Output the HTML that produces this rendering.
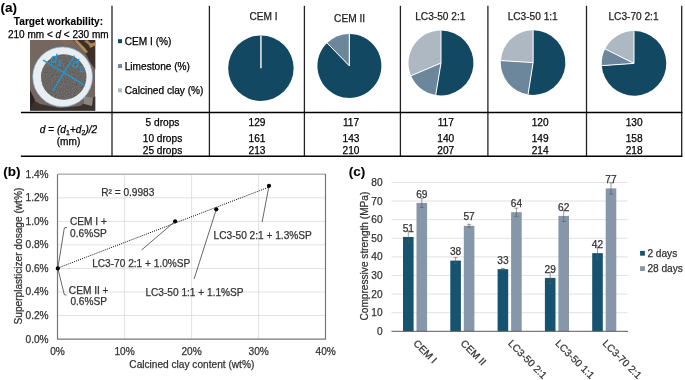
<!DOCTYPE html>
<html><head><meta charset="utf-8"><style>
html,body{margin:0;padding:0;background:#fff;width:685px;height:380px;overflow:hidden}
svg{display:block;will-change:transform}
text{font-family:"Liberation Sans",sans-serif}
</style></head><body>
<svg width="685" height="380" viewBox="0 0 685 380">
<text x="0.6" y="11.9" font-size="13.5" font-weight="bold" stroke="#000" stroke-width="0.1">(a)</text>
<text x="58.5" y="25" font-size="10.15" font-weight="bold" text-anchor="middle" stroke="#000" stroke-width="0.1">Target workability:</text>
<text x="58.3" y="37.6" font-size="10" text-anchor="middle" stroke="#000" stroke-width="0.25">210 mm &lt; <tspan font-style="italic">d</tspan> &lt; 230 mm</text>
<defs>
<filter id="tex" x="0" y="0" width="1" height="1" color-interpolation-filters="sRGB"><feTurbulence type="fractalNoise" baseFrequency="0.9" numOctaves="2" seed="3" result="n"/><feColorMatrix in="n" type="matrix" values="0.7 0 0 0 0.05  0.7 0 0 0 0.05  0.7 0 0 0 0.05  0 0 0 0 0.3" result="m"/><feComposite in="m" in2="SourceGraphic" operator="in"/></filter>
<clipPath id="pc"><rect x="30" y="40" width="65.3" height="70.7"/></clipPath>
</defs>
<g clip-path="url(#pc)">
<rect x="30" y="40" width="65.3" height="70.7" fill="#74675f"/>
<path d="M73,40 L96,40 L96,70 L90,62 L84,50 L78,45 Z" fill="#3d3029"/>
<path d="M74,40.5 L77,40 L84,47 L88,52 L86,53 L81,48 Z" fill="#b58a58"/>
<path d="M84,41 L87,40 L92,44 L90,46 Z" fill="#a07a50"/>
<path d="M89,44 L96,42 L96,45 L90,48 Z" fill="#b08552"/>
<path d="M60,40 L70,40 L72,44 L64,46 Z" fill="#85675a"/>
<path d="M30,98 L40,104 L60,108 L80,106 L96,96 L96,111 L30,111 Z" fill="#3a322e"/>
<path d="M30,90 L35,100 L31,108 L30,108 Z" fill="#2b2522"/>
<path d="M84,96 L93,98 L92,106 L84,104 Z" fill="#8a8580"/>
<ellipse cx="62.6" cy="76.8" rx="29.9" ry="29.9" fill="#e8eef1" stroke="#7fb2d4" stroke-width="0.7"/>
<circle cx="63.7" cy="77" r="22.7" fill="#6a6663"/>
<circle cx="63.7" cy="77" r="22.7" fill="#777" filter="url(#tex)"/>
<line x1="43.2" y1="60.2" x2="84.9" y2="85.4" stroke="#1d9ad6" stroke-width="1.4"/>
<line x1="74.5" y1="55.7" x2="52.7" y2="91.1" stroke="#1d9ad6" stroke-width="1.4"/>
<text x="50.6" y="62.6" font-size="12" fill="#1d9ad6" font-style="italic" stroke="#1d9ad6" stroke-width="0.3">d</text><text x="57.4" y="65.6" font-size="8.5" fill="#1d9ad6" stroke="#1d9ad6" stroke-width="0.2">1</text>
<text x="72.3" y="68.4" font-size="12" fill="#1d9ad6" font-style="italic" stroke="#1d9ad6" stroke-width="0.3">d</text><text x="79.2" y="72.2" font-size="8.5" fill="#1d9ad6" stroke="#1d9ad6" stroke-width="0.2">2</text>
</g>
<rect x="118" y="39.2" width="4" height="4" fill="#134862"/>
<text x="124.7" y="44.8" font-size="10.15" stroke="#000" stroke-width="0.25">CEM I (%)</text>
<rect x="118" y="64.1" width="4" height="4" fill="#6c879b"/>
<text x="124.7" y="69.7" font-size="10.15" stroke="#000" stroke-width="0.25">Limestone (%)</text>
<rect x="118" y="88.3" width="4" height="4" fill="#adb8c3"/>
<text x="124.7" y="93.9" font-size="10.15" stroke="#000" stroke-width="0.25">Calcined clay (%)</text>
<text x="263.5" y="19.6" font-size="10.15" text-anchor="middle" fill="#222" stroke="#222" stroke-width="0.25">CEM I</text>
<text x="349.6" y="21.5" font-size="10.15" text-anchor="middle" fill="#222" stroke="#222" stroke-width="0.25">CEM II</text>
<text x="440.3" y="19.7" font-size="10.15" text-anchor="middle" fill="#222" stroke="#222" stroke-width="0.25">LC3-50 2:1</text>
<text x="532.7" y="20.0" font-size="10.15" text-anchor="middle" fill="#222" stroke="#222" stroke-width="0.25">LC3-50 1:1</text>
<text x="633.5" y="19.6" font-size="10.15" text-anchor="middle" fill="#222" stroke="#222" stroke-width="0.25">LC3-70 2:1</text>
<circle cx="260.9" cy="68.2" r="32.7" fill="#134862"/>
<line x1="260.9" y1="68.2" x2="260.90" y2="35.50" stroke="#d4dce0" stroke-width="1"/>
<line x1="260.9" y1="68.2" x2="260.90" y2="35.50" stroke="#d4dce0" stroke-width="1"/>
<line x1="260.9" y1="68.2" x2="260.90" y2="35.50" stroke="#d4dce0" stroke-width="1"/>
<path d="M349.4,65.9 L349.40,33.90 A32,32 0 1 1 327.06,42.99 Z" fill="#134862"/>
<path d="M349.4,65.9 L327.06,42.99 A32,32 0 0 1 349.40,33.90 Z" fill="#6c879b"/>
<line x1="349.4" y1="65.9" x2="349.40" y2="33.90" stroke="#fff" stroke-width="1"/>
<line x1="349.4" y1="65.9" x2="327.06" y2="42.99" stroke="#fff" stroke-width="1"/>
<line x1="349.4" y1="65.9" x2="349.40" y2="33.90" stroke="#fff" stroke-width="1"/>
<path d="M441,63 L441.00,30.50 A32.5,32.5 0 1 1 435.71,95.07 Z" fill="#134862"/>
<path d="M441,63 L435.71,95.07 A32.5,32.5 0 0 1 411.09,75.72 Z" fill="#6c879b"/>
<path d="M441,63 L411.09,75.72 A32.5,32.5 0 0 1 441.00,30.50 Z" fill="#adb8c3"/>
<line x1="441" y1="63" x2="441.00" y2="30.50" stroke="#fff" stroke-width="1"/>
<line x1="441" y1="63" x2="435.71" y2="95.07" stroke="#fff" stroke-width="1"/>
<line x1="441" y1="63" x2="411.09" y2="75.72" stroke="#fff" stroke-width="1"/>
<path d="M533.1,62.6 L533.10,30.30 A32.3,32.3 0 1 1 528.05,94.50 Z" fill="#134862"/>
<path d="M533.1,62.6 L528.05,94.50 A32.3,32.3 0 0 1 500.86,60.57 Z" fill="#6c879b"/>
<path d="M533.1,62.6 L500.86,60.57 A32.3,32.3 0 0 1 533.10,30.30 Z" fill="#adb8c3"/>
<line x1="533.1" y1="62.6" x2="533.10" y2="30.30" stroke="#fff" stroke-width="1"/>
<line x1="533.1" y1="62.6" x2="528.05" y2="94.50" stroke="#fff" stroke-width="1"/>
<line x1="533.1" y1="62.6" x2="500.86" y2="60.57" stroke="#fff" stroke-width="1"/>
<path d="M634,63.4 L634.00,31.10 A32.3,32.3 0 1 1 601.78,65.63 Z" fill="#134862"/>
<path d="M634,63.4 L601.78,65.63 A32.3,32.3 0 0 1 605.13,48.92 Z" fill="#6c879b"/>
<path d="M634,63.4 L605.13,48.92 A32.3,32.3 0 0 1 634.00,31.10 Z" fill="#adb8c3"/>
<line x1="634" y1="63.4" x2="634.00" y2="31.10" stroke="#fff" stroke-width="1"/>
<line x1="634" y1="63.4" x2="601.78" y2="65.63" stroke="#fff" stroke-width="1"/>
<line x1="634" y1="63.4" x2="605.13" y2="48.92" stroke="#fff" stroke-width="1"/>
<line x1="112.0" y1="5.8" x2="112.0" y2="156.3" stroke="#222" stroke-width="1.3"/>
<line x1="209.4" y1="5.8" x2="209.4" y2="156.3" stroke="#222" stroke-width="1.3"/>
<line x1="304.4" y1="5.8" x2="304.4" y2="156.3" stroke="#222" stroke-width="1.3"/>
<line x1="400.4" y1="5.8" x2="400.4" y2="156.3" stroke="#222" stroke-width="1.3"/>
<line x1="487.9" y1="5.8" x2="487.9" y2="156.3" stroke="#222" stroke-width="1.3"/>
<line x1="586.5" y1="5.8" x2="586.5" y2="156.3" stroke="#222" stroke-width="1.3"/>
<line x1="681.7" y1="5.8" x2="681.7" y2="156.3" stroke="#222" stroke-width="1.3"/>
<line x1="20.9" y1="112.5" x2="682.4" y2="112.5" stroke="#000" stroke-width="1.5"/>
<line x1="20.9" y1="156.35" x2="682.4" y2="156.35" stroke="#000" stroke-width="1.5"/>
<text x="68.5" y="133" font-size="10.15" text-anchor="middle" font-style="italic" stroke="#000" stroke-width="0.25">d<tspan font-style="normal"> = </tspan>(d<tspan font-style="normal" font-size="7" dy="1.6">1</tspan><tspan dy="-1.6" font-style="normal">+</tspan>d<tspan font-style="normal" font-size="7" dy="1.6">2</tspan><tspan dy="-1.6">)/2</tspan></text>
<text x="68.5" y="144.6" font-size="10.15" text-anchor="middle" stroke="#000" stroke-width="0.25">(mm)</text>
<text x="162.5" y="126.2" font-size="10.15" text-anchor="middle" stroke="#000" stroke-width="0.25">5 drops</text>
<text x="162.5" y="141.6" font-size="10.15" text-anchor="middle" stroke="#000" stroke-width="0.25">10 drops</text>
<text x="162.5" y="154.2" font-size="10.15" text-anchor="middle" stroke="#000" stroke-width="0.25">25 drops</text>
<text x="257" y="126.2" font-size="10.15" text-anchor="middle" stroke="#000" stroke-width="0.25">129</text>
<text x="257" y="141.8" font-size="10.15" text-anchor="middle" stroke="#000" stroke-width="0.25">161</text>
<text x="257" y="154.2" font-size="10.15" text-anchor="middle" stroke="#000" stroke-width="0.25">213</text>
<text x="351" y="126.2" font-size="10.15" text-anchor="middle" stroke="#000" stroke-width="0.25">117</text>
<text x="351" y="141.8" font-size="10.15" text-anchor="middle" stroke="#000" stroke-width="0.25">143</text>
<text x="351" y="154.2" font-size="10.15" text-anchor="middle" stroke="#000" stroke-width="0.25">210</text>
<text x="445.8" y="126.2" font-size="10.15" text-anchor="middle" stroke="#000" stroke-width="0.25">117</text>
<text x="445.8" y="141.8" font-size="10.15" text-anchor="middle" stroke="#000" stroke-width="0.25">140</text>
<text x="445.8" y="154.2" font-size="10.15" text-anchor="middle" stroke="#000" stroke-width="0.25">207</text>
<text x="540.2" y="126.2" font-size="10.15" text-anchor="middle" stroke="#000" stroke-width="0.25">120</text>
<text x="540.2" y="141.8" font-size="10.15" text-anchor="middle" stroke="#000" stroke-width="0.25">149</text>
<text x="540.2" y="154.2" font-size="10.15" text-anchor="middle" stroke="#000" stroke-width="0.25">214</text>
<text x="634.2" y="126.2" font-size="10.15" text-anchor="middle" stroke="#000" stroke-width="0.25">130</text>
<text x="634.2" y="141.8" font-size="10.15" text-anchor="middle" stroke="#000" stroke-width="0.25">158</text>
<text x="634.2" y="154.2" font-size="10.15" text-anchor="middle" stroke="#000" stroke-width="0.25">218</text>
<text x="3.2" y="176.1" font-size="13.5" font-weight="bold" stroke="#000" stroke-width="0.1">(b)</text>
<line x1="57.5" y1="315.47" x2="325.5" y2="315.47" stroke="#d9d9d9" stroke-width="0.8"/>
<line x1="57.5" y1="291.94" x2="325.5" y2="291.94" stroke="#d9d9d9" stroke-width="0.8"/>
<line x1="57.5" y1="268.41" x2="325.5" y2="268.41" stroke="#d9d9d9" stroke-width="0.8"/>
<line x1="57.5" y1="244.88" x2="325.5" y2="244.88" stroke="#d9d9d9" stroke-width="0.8"/>
<line x1="57.5" y1="221.35" x2="325.5" y2="221.35" stroke="#d9d9d9" stroke-width="0.8"/>
<line x1="57.5" y1="197.82" x2="325.5" y2="197.82" stroke="#d9d9d9" stroke-width="0.8"/>
<line x1="57.5" y1="174.29" x2="325.5" y2="174.29" stroke="#d9d9d9" stroke-width="0.8"/>
<line x1="124.55" y1="174.3" x2="124.55" y2="339" stroke="#d9d9d9" stroke-width="0.8"/>
<line x1="191.60" y1="174.3" x2="191.60" y2="339" stroke="#d9d9d9" stroke-width="0.8"/>
<line x1="258.65" y1="174.3" x2="258.65" y2="339" stroke="#d9d9d9" stroke-width="0.8"/>
<line x1="57.5" y1="174.2" x2="325.5" y2="174.2" stroke="#b8b8b8" stroke-width="1.4"/>
<polyline points="57.5,174.3 57.5,339.2 325.5,339.2 325.5,174" fill="none" stroke="#777" stroke-width="1.2"/>
<text x="48.6" y="342.50" font-size="10.15" text-anchor="end" fill="#333" stroke="#333" stroke-width="0.25">0.0%</text>
<text x="48.6" y="318.97" font-size="10.15" text-anchor="end" fill="#333" stroke="#333" stroke-width="0.25">0.2%</text>
<text x="48.6" y="295.44" font-size="10.15" text-anchor="end" fill="#333" stroke="#333" stroke-width="0.25">0.4%</text>
<text x="48.6" y="271.91" font-size="10.15" text-anchor="end" fill="#333" stroke="#333" stroke-width="0.25">0.6%</text>
<text x="48.6" y="248.38" font-size="10.15" text-anchor="end" fill="#333" stroke="#333" stroke-width="0.25">0.8%</text>
<text x="48.6" y="224.85" font-size="10.15" text-anchor="end" fill="#333" stroke="#333" stroke-width="0.25">1.0%</text>
<text x="48.6" y="201.32" font-size="10.15" text-anchor="end" fill="#333" stroke="#333" stroke-width="0.25">1.2%</text>
<text x="48.6" y="177.79" font-size="10.15" text-anchor="end" fill="#333" stroke="#333" stroke-width="0.25">1.4%</text>
<text x="57.50" y="354.6" font-size="10.15" text-anchor="middle" fill="#333" stroke="#333" stroke-width="0.25">0%</text>
<text x="124.55" y="354.6" font-size="10.15" text-anchor="middle" fill="#333" stroke="#333" stroke-width="0.25">10%</text>
<text x="191.60" y="354.6" font-size="10.15" text-anchor="middle" fill="#333" stroke="#333" stroke-width="0.25">20%</text>
<text x="258.65" y="354.6" font-size="10.15" text-anchor="middle" fill="#333" stroke="#333" stroke-width="0.25">30%</text>
<text x="325.70" y="354.6" font-size="10.15" text-anchor="middle" fill="#333" stroke="#333" stroke-width="0.25">40%</text>
<text x="191.8" y="368.2" font-size="10.15" text-anchor="middle" fill="#333" stroke="#333" stroke-width="0.25">Calcined clay content (wt%)</text>
<text transform="translate(22.3,256.1) rotate(-90)" font-size="10.15" text-anchor="middle" fill="#333" stroke="#333" stroke-width="0.25">Superplasticizer dosage (wt%)</text>
<line x1="57.50" y1="268.2" x2="269.38" y2="186.9" stroke="#000" stroke-width="1" stroke-dasharray="1,1.2"/>
<polyline points="57.8,268.4 64.3,228 67,227.4" fill="none" stroke="#404040" stroke-width="0.8"/>
<polyline points="57.8,268.4 64.3,294.7 66.5,295" fill="none" stroke="#404040" stroke-width="0.8"/>
<line x1="175.1" y1="221.3" x2="141.7" y2="249.9" stroke="#404040" stroke-width="0.8"/>
<line x1="216.3" y1="209.3" x2="194.1" y2="279" stroke="#404040" stroke-width="0.8"/>
<line x1="269" y1="185.8" x2="262.1" y2="222.1" stroke="#404040" stroke-width="0.8"/>
<circle cx="57.8" cy="268.4" r="2.1" fill="#000"/>
<circle cx="175.1" cy="221.3" r="2.1" fill="#000"/>
<circle cx="216.3" cy="209.3" r="2.1" fill="#000"/>
<circle cx="269" cy="185.8" r="2.1" fill="#000"/>
<text x="101.2" y="196.4" font-size="10.15" fill="#333" stroke="#333" stroke-width="0.25">R² = 0.9983</text>
<text x="88.4" y="225.1" font-size="10.15" fill="#333" text-anchor="middle" stroke="#333" stroke-width="0.25">CEM I +</text>
<text x="88.4" y="236.7" font-size="10.15" fill="#333" text-anchor="middle" stroke="#333" stroke-width="0.25">0.6%SP</text>
<text x="88.7" y="293.6" font-size="10.15" fill="#333" text-anchor="middle" stroke="#333" stroke-width="0.25">CEM II +</text>
<text x="88.7" y="305.2" font-size="10.15" fill="#333" text-anchor="middle" stroke="#333" stroke-width="0.25">0.6%SP</text>
<text x="190.4" y="266.7" font-size="10.15" fill="#333" text-anchor="end" stroke="#333" stroke-width="0.25">LC3-70 2:1 + 1.0%SP</text>
<text x="145.4" y="295.6" font-size="10.15" fill="#333" stroke="#333" stroke-width="0.25">LC3-50 1:1 + 1.1%SP</text>
<text x="213.6" y="238.5" font-size="10.15" fill="#333" stroke="#333" stroke-width="0.25">LC3-50 2:1 + 1.3%SP</text>
<text x="348.7" y="176.1" font-size="13.5" font-weight="bold" stroke="#000" stroke-width="0.1">(c)</text>
<line x1="391.5" y1="312.69" x2="627.5" y2="312.69" stroke="#d9d9d9" stroke-width="0.8"/>
<line x1="391.5" y1="294.08" x2="627.5" y2="294.08" stroke="#d9d9d9" stroke-width="0.8"/>
<line x1="391.5" y1="275.47" x2="627.5" y2="275.47" stroke="#d9d9d9" stroke-width="0.8"/>
<line x1="391.5" y1="256.86" x2="627.5" y2="256.86" stroke="#d9d9d9" stroke-width="0.8"/>
<line x1="391.5" y1="238.25" x2="627.5" y2="238.25" stroke="#d9d9d9" stroke-width="0.8"/>
<line x1="391.5" y1="219.64" x2="627.5" y2="219.64" stroke="#d9d9d9" stroke-width="0.8"/>
<line x1="391.5" y1="201.03" x2="627.5" y2="201.03" stroke="#d9d9d9" stroke-width="0.8"/>
<line x1="391.5" y1="182.42" x2="627.5" y2="182.42" stroke="#d9d9d9" stroke-width="0.8"/>
<text x="382.6" y="334.80" font-size="10.15" text-anchor="end" fill="#333" stroke="#333" stroke-width="0.25">0</text>
<text x="382.6" y="316.19" font-size="10.15" text-anchor="end" fill="#333" stroke="#333" stroke-width="0.25">10</text>
<text x="382.6" y="297.58" font-size="10.15" text-anchor="end" fill="#333" stroke="#333" stroke-width="0.25">20</text>
<text x="382.6" y="278.97" font-size="10.15" text-anchor="end" fill="#333" stroke="#333" stroke-width="0.25">30</text>
<text x="382.6" y="260.36" font-size="10.15" text-anchor="end" fill="#333" stroke="#333" stroke-width="0.25">40</text>
<text x="382.6" y="241.75" font-size="10.15" text-anchor="end" fill="#333" stroke="#333" stroke-width="0.25">50</text>
<text x="382.6" y="223.14" font-size="10.15" text-anchor="end" fill="#333" stroke="#333" stroke-width="0.25">60</text>
<text x="382.6" y="204.53" font-size="10.15" text-anchor="end" fill="#333" stroke="#333" stroke-width="0.25">70</text>
<text x="382.6" y="185.92" font-size="10.15" text-anchor="end" fill="#333" stroke="#333" stroke-width="0.25">80</text>
<rect x="403.00" y="236.95" width="10.6" height="94.35" fill="#16536f"/>
<path d="M408.30,230.99 V242.90 M406.30,230.99 H410.30 M406.30,242.90 H410.30" stroke="#595959" stroke-width="0.6" fill="none"/>
<text x="408.30" y="231.65" font-size="10.15" text-anchor="middle" fill="#333" stroke="#333" stroke-width="0.25">51</text>
<rect x="416.50" y="202.89" width="10.6" height="128.41" fill="#8597a8"/>
<path d="M421.80,198.24 V207.54 M419.80,198.24 H423.80 M419.80,207.54 H423.80" stroke="#595959" stroke-width="0.6" fill="none"/>
<text x="421.80" y="197.59" font-size="10.15" text-anchor="middle" fill="#333" stroke="#333" stroke-width="0.25">69</text>
<text transform="translate(412.80,344) rotate(45)" font-size="10.15" fill="#333" stroke="#333" stroke-width="0.25">CEM I</text>
<rect x="450.30" y="260.58" width="10.6" height="70.72" fill="#16536f"/>
<path d="M455.60,257.60 V263.56 M453.60,257.60 H457.60 M453.60,263.56 H457.60" stroke="#595959" stroke-width="0.6" fill="none"/>
<text x="455.60" y="255.28" font-size="10.15" text-anchor="middle" fill="#333" stroke="#333" stroke-width="0.25">38</text>
<rect x="463.80" y="225.78" width="10.6" height="105.52" fill="#8597a8"/>
<path d="M469.10,224.29 V227.27 M467.10,224.29 H471.10 M467.10,227.27 H471.10" stroke="#595959" stroke-width="0.6" fill="none"/>
<text x="469.10" y="220.48" font-size="10.15" text-anchor="middle" fill="#333" stroke="#333" stroke-width="0.25">57</text>
<text transform="translate(460.10,344) rotate(45)" font-size="10.15" fill="#333" stroke="#333" stroke-width="0.25">CEM II</text>
<rect x="497.60" y="269.14" width="10.6" height="62.16" fill="#16536f"/>
<path d="M502.90,268.40 V269.89 M500.90,268.40 H504.90 M500.90,269.89 H504.90" stroke="#595959" stroke-width="0.6" fill="none"/>
<text x="502.90" y="263.84" font-size="10.15" text-anchor="middle" fill="#333" stroke="#333" stroke-width="0.25">33</text>
<rect x="511.10" y="212.20" width="10.6" height="119.10" fill="#8597a8"/>
<path d="M516.40,208.10 V216.29 M514.40,208.10 H518.40 M514.40,216.29 H518.40" stroke="#595959" stroke-width="0.6" fill="none"/>
<text x="516.40" y="206.90" font-size="10.15" text-anchor="middle" fill="#333" stroke="#333" stroke-width="0.25">64</text>
<text transform="translate(507.40,344) rotate(45)" font-size="10.15" fill="#333" stroke="#333" stroke-width="0.25">LC3-50 2:1</text>
<rect x="544.90" y="277.89" width="10.6" height="53.41" fill="#16536f"/>
<path d="M550.20,272.31 V283.47 M548.20,272.31 H552.20 M548.20,283.47 H552.20" stroke="#595959" stroke-width="0.6" fill="none"/>
<text x="550.20" y="272.59" font-size="10.15" text-anchor="middle" fill="#333" stroke="#333" stroke-width="0.25">29</text>
<rect x="558.40" y="215.92" width="10.6" height="115.38" fill="#8597a8"/>
<path d="M563.70,210.34 V221.50 M561.70,210.34 H565.70 M561.70,221.50 H565.70" stroke="#595959" stroke-width="0.6" fill="none"/>
<text x="563.70" y="210.62" font-size="10.15" text-anchor="middle" fill="#333" stroke="#333" stroke-width="0.25">62</text>
<text transform="translate(554.70,344) rotate(45)" font-size="10.15" fill="#333" stroke="#333" stroke-width="0.25">LC3-50 1:1</text>
<rect x="592.20" y="253.14" width="10.6" height="78.16" fill="#16536f"/>
<path d="M597.50,247.18 V259.09 M595.50,247.18 H599.50 M595.50,259.09 H599.50" stroke="#595959" stroke-width="0.6" fill="none"/>
<text x="597.50" y="247.84" font-size="10.15" text-anchor="middle" fill="#333" stroke="#333" stroke-width="0.25">42</text>
<rect x="605.70" y="188.38" width="10.6" height="142.92" fill="#8597a8"/>
<path d="M611.00,182.79 V193.96 M609.00,182.79 H613.00 M609.00,193.96 H613.00" stroke="#595959" stroke-width="0.6" fill="none"/>
<text x="611.00" y="183.08" font-size="10.15" text-anchor="middle" fill="#333" stroke="#333" stroke-width="0.25">77</text>
<text transform="translate(602.00,344) rotate(45)" font-size="10.15" fill="#333" stroke="#333" stroke-width="0.25">LC3-70 2:1</text>
<line x1="391.5" y1="331.3" x2="628" y2="331.3" stroke="#595959" stroke-width="1"/>
<rect x="640.1" y="250.9" width="4.8" height="4.8" fill="#16536f"/>
<text x="647.4" y="257" font-size="10.15" fill="#333" stroke="#333" stroke-width="0.25">2 days</text>
<rect x="640.1" y="266.2" width="4.8" height="4.8" fill="#8597a8"/>
<text x="647.4" y="272.2" font-size="10.15" fill="#333" stroke="#333" stroke-width="0.25">28 days</text>
<text transform="translate(367.8,256.1) rotate(-90)" font-size="10.15" text-anchor="middle" fill="#333" stroke="#333" stroke-width="0.25">Compressive strength (MPa)</text>
</svg></body></html>
